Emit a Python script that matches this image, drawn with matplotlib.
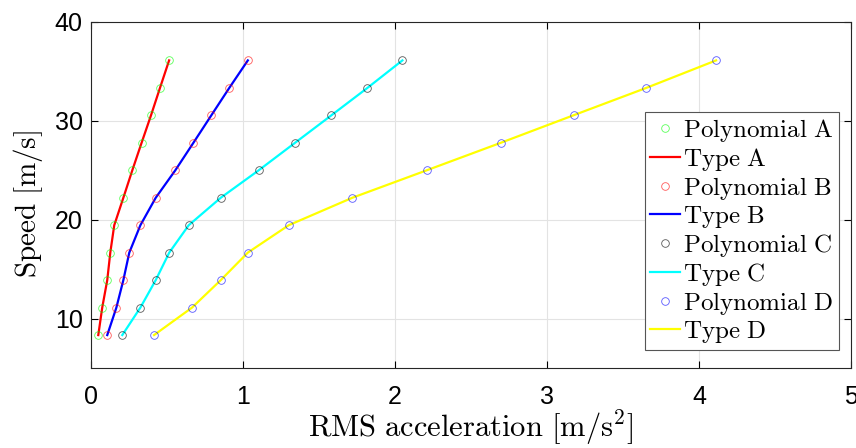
import numpy as np
import matplotlib
matplotlib.use("Agg")
import matplotlib.pyplot as plt

plt.rcParams['mathtext.fontset'] = 'cm'

# speeds: 30..130 km/h in m/s
speed = [8.33, 11.11, 13.89, 16.67, 19.44, 22.22, 25.0, 27.78, 30.56, 33.33, 36.11]

rms_a = [0.048, 0.074, 0.107, 0.127, 0.153, 0.213, 0.272, 0.333, 0.395, 0.454, 0.514]
rms_b = [0.107, 0.167, 0.213, 0.252, 0.325, 0.426, 0.555, 0.674, 0.792, 0.910, 1.032]
rms_c = [0.206, 0.325, 0.426, 0.515, 0.643, 0.854, 1.104, 1.343, 1.582, 1.819, 2.049]
rms_d = [0.415, 0.665, 0.854, 1.032, 1.301, 1.720, 2.210, 2.697, 3.175, 3.654, 4.113]

series = [
    ("A", rms_a, "#00ff00", "red"),
    ("B", rms_b, "red", "blue"),
    ("C", rms_c, "black", "cyan"),
    ("D", rms_d, "blue", "yellow"),
]

fig = plt.figure(figsize=(8.56, 4.48), dpi=100)
ax = fig.add_axes([0.1063, 0.1786, 0.8877, 0.7724])

for name, x, mcol, lcol in series:
    ax.plot(x, speed, linestyle="none", marker="o", markersize=5.5,
            markerfacecolor="none", markeredgecolor=mcol, markeredgewidth=0.6,
            alpha=0.65, label=r"$\mathrm{Polynomial\ %s}$" % name, zorder=3)
    ax.plot(x, speed, color=lcol, linewidth=1.6,
            label=r"$\mathrm{Type\ %s}$" % name, zorder=2)

ax.set_xlim(0, 5)
ax.set_ylim(5, 40)
ax.set_xticks([0, 1, 2, 3, 4, 5])
ax.set_yticks([10, 20, 30, 40])
ax.grid(True, color="#e3e3e3", linewidth=0.8)
ax.set_axisbelow(True)
ax.tick_params(direction="in", length=5, width=0.8, top=True, right=True,
               labelsize=18)
ax.tick_params(axis="x", pad=12)
ax.tick_params(axis="y", pad=6)
for lab in ax.get_xticklabels() + ax.get_yticklabels():
    lab.set_family("Liberation Sans")
for sp in ax.spines.values():
    sp.set_linewidth(0.8)
    sp.set_color("#262626")

ax.set_xlabel(r"$\mathrm{RMS\ acceleration\ [m/s^2]}$", fontsize=22, labelpad=0)
ax.set_ylabel(r"$\mathrm{Speed\ [m/s]}$", fontsize=21)
ax.yaxis.set_label_coords(-0.06, 0.475)

leg = ax.legend(loc="lower right", bbox_to_anchor=(0.984, 0.052),
                fontsize=18, frameon=True, fancybox=False,
                edgecolor="#555555", framealpha=1, handlelength=1.17,
                handletextpad=0.15, labelspacing=0.08, borderpad=0.2,
                borderaxespad=0)
leg.get_frame().set_linewidth(0.8)

fig.savefig("out.png", dpi=100)
